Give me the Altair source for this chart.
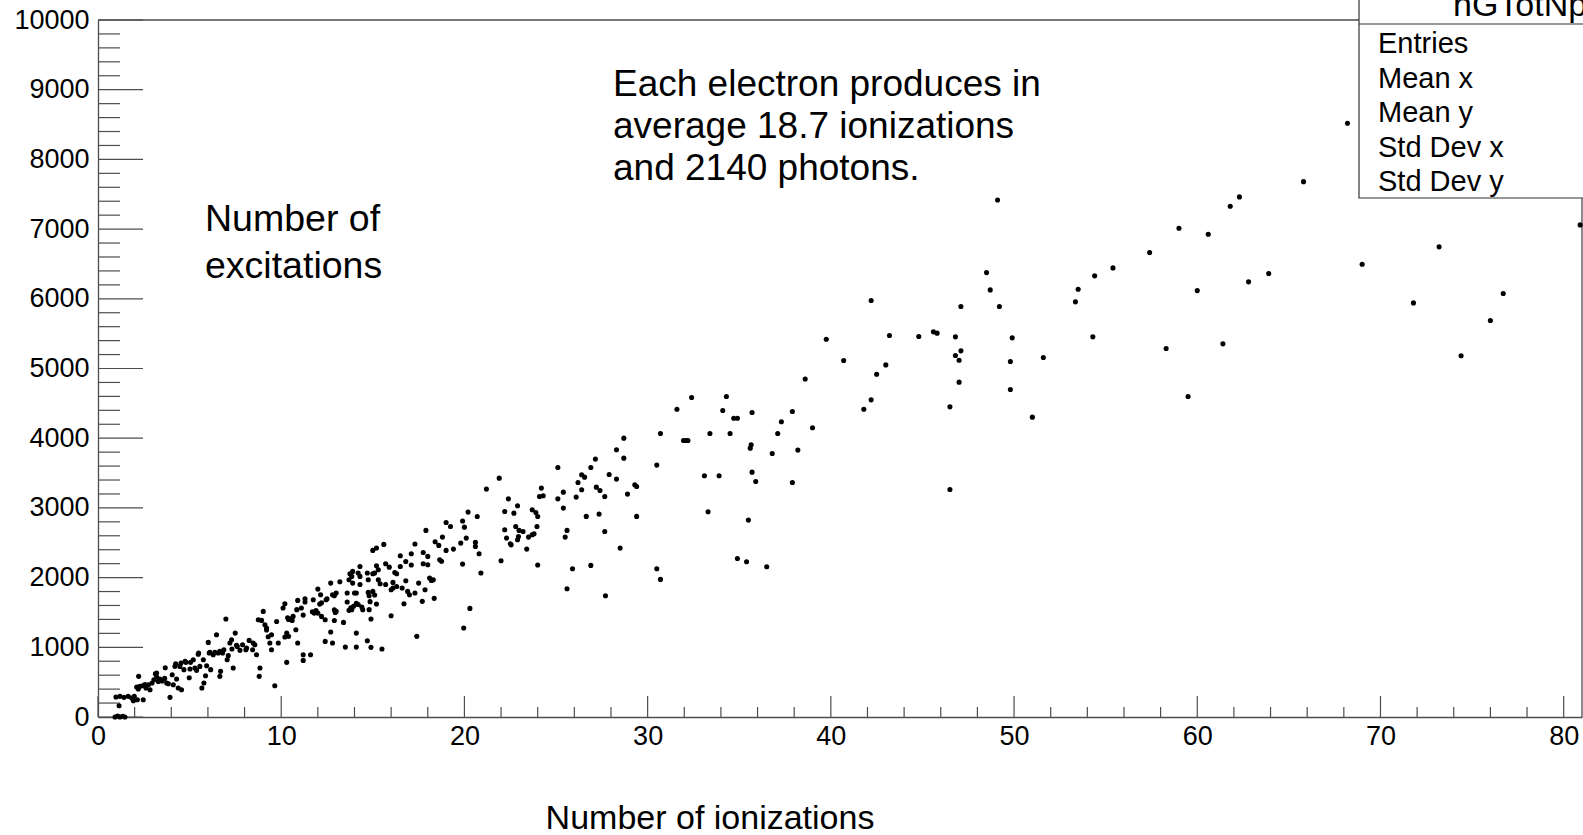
import altair as alt
import pandas as pd

# Number of ionizations / excitations per primary electron
ionizations = [
    0.93, 1.07, 1.2, 1.35, 1.47, 1.15,
    0.98, 1.2, 1.42, 1.65, 1.84, 1.98, 2.15, 1.93, 2.2, 2.11, 2.29, 2.44, 2.22, 2.47,
    2.62, 2.75, 2.84, 2.95, 3.05, 3.13, 3.2, 3.29, 3.38, 3.5, 3.64, 3.67, 3.75, 3.93,
    4.05, 4.11, 4.24, 4.29, 4.38, 4.47, 4.56, 4.53, 4.69, 4.8, 4.98, 5.05, 5.2, 5.29,
    5.38, 5.49, 5.56, 5.67, 5.78, 5.87, 5.93, 6.02, 6.07, 6.15, 6.29, 6.38, 6.47, 6.56,
    6.65, 6.69, 6.8, 6.87, 6.98, 7.05, 7.2, 7.31, 7.38, 7.49, 7.6, 7.75, 7.89, 8.07,
    8.25, 8.44, 8.56, 8.65, 8.75, 8.8, 8.84, 8.93, 9.02, 9.11, 9.2, 9.29, 9.38, 9.47,
    9.65, 9.75, 9.84,
    2.56, 3.2, 3.84, 4.2, 4.75, 5.02, 5.47, 5.75, 6.11, 6.65, 7.11, 7.29, 7.56, 8.11,
    8.47, 9.2, 9.47,
    25.1, 21.9, 21.2, 22.4, 22.9, 24.2, 24.1, 24.3, 25.1, 25.4, 26.1, 26.2, 25.4, 25.6,
    25.5, 25.9, 25.6, 22.2, 22.7, 23.7, 23.9, 24.0, 22.2, 22.3, 22.8, 22.98, 23.2, 22.9,
    22.95, 22.5, 22.55, 23.8, 23.7, 23.96, 23.5, 23.4, 22.0, 24.0, 20.7, 20.2, 19.9, 20.0,
    19.24, 19.0, 19.8, 20.1, 20.6, 20.6, 20.8, 19.9, 20.9, 20.3, 19.96, 17.9, 18.4, 18.6,
    18.8, 19.0, 19.4, 18.65, 18.75, 17.75, 18.0, 17.75, 18.0, 17.3, 16.5, 17.1, 17.1, 16.8,
    16.5, 16.2, 16.3, 15.6, 15.0, 15.2, 15.7, 15.9, 15.2, 15.3, 15.1, 15.0, 15.3, 15.4,
    15.0, 15.7, 16.1, 16.0, 16.1, 16.3, 16.6, 16.8, 16.9, 17.0, 17.3, 17.5, 17.85, 18.1,
    18.3, 18.2, 18.35, 16.7, 17.7, 16.0, 15.5, 17.4, 14.3, 14.2, 14.3, 13.9, 13.85, 13.75,
    14.3, 14.7, 14.75, 13.7, 13.9, 13.6, 13.2, 14.0, 14.1, 14.75, 14.8, 14.85, 15.1, 15.2,
    14.8, 14.4, 14.45, 13.8, 13.95, 13.85, 13.7, 14.2, 14.1, 13.6, 13.0, 12.8, 12.9, 12.7,
    12.0, 11.75, 11.3, 11.3, 10.9, 10.2, 10.1, 10.85, 11.1, 10.65, 10.5, 10.6, 10.35, 10.4,
    10.3, 10.2, 10.4, 10.8, 10.9, 10.3, 11.2, 11.2, 11.6, 11.2, 11.7, 11.8, 11.9, 12.0,
    12.2, 12.4, 12.4, 12.8, 12.7, 12.9, 13.0, 12.95, 13.4, 12.9, 13.5, 14.1, 14.1, 14.7,
    14.9, 14.9, 12.1, 12.2, 12.15, 12.45, 12.5,
    40.7, 38.6, 32.4, 34.3, 31.6, 34.1, 34.7, 34.9, 35.7, 37.9, 37.3, 39.0, 30.7, 31.96,
    32.1, 32.2, 33.4, 34.5, 37.1, 35.65, 35.6, 36.8, 38.2, 28.7, 28.3, 28.7, 27.15, 26.9,
    26.4, 26.56, 27.9, 28.3, 27.2, 27.4, 27.66, 26.4, 29.3, 29.4, 28.9, 30.5, 33.1, 33.9,
    35.7, 35.9, 37.9, 26.65, 27.35, 29.4, 33.3, 35.5, 27.66, 28.5, 26.9, 27.7, 30.5, 30.7,
    34.9, 35.4, 36.5,
    49.1, 59.0, 57.4, 55.4, 54.4, 53.5, 53.35, 60.0, 48.5, 48.7, 47.1, 49.2, 42.2, 39.75,
    43.2, 44.8, 45.6, 45.8, 46.8, 47.1, 46.8, 47.0, 49.9, 49.8, 49.8, 51.6, 54.3, 58.3,
    59.5, 43.0, 42.5, 42.2, 41.8, 47.0, 46.5, 51.0, 46.5,
    68.2, 65.8, 62.3, 61.8, 60.6, 63.9, 62.8, 69.0, 73.2, 80.9, 76.7, 71.8, 76.0, 74.4,
    61.4,
]

excitations = [
    0, 15, 0, 10, 0, 162,
    287, 296, 282, 296, 272, 296, 248, 234, 401, 430, 440, 449, 583, 248,
    416, 463, 392, 487, 535, 621, 573, 511, 545, 516, 554, 707, 487, 282,
    607, 463, 765, 545, 416, 726, 392, 774, 679, 784, 564, 784, 822, 702,
    669, 918, 726, 416, 487, 592, 736, 1070, 918, 679, 894, 927, 1180, 918,
    583, 655, 918, 965, 1405, 822, 1061, 975, 702, 1204, 1013, 956, 1037, 965,
    1099, 965, 1037, 894, 1395, 583, 702, 1386, 1515, 1324, 1276, 1151, 1061, 965,
    449, 1371, 1061,
    464, 631, 478, 727, 800, 688, 900, 822, 930, 942, 880, 1109, 1030, 990,
    1061, 1250, 1180,
    3580, 3427, 3270, 3130, 3030, 3284, 3164, 3174, 3130, 3226, 3155, 3365, 2997, 2677,
    2581, 2127, 1840, 2949, 2925, 2973, 2935, 2877, 2686, 2567, 2734, 2677, 2662, 2543,
    2590, 2485, 2470, 2629, 2615, 2734, 2581, 2409, 2242, 2180, 2877, 2940, 2811, 2724,
    2734, 2791, 2495, 2567, 2505, 2447, 2342, 2194, 2065, 1558, 1276, 2677, 2514, 2462,
    2581, 2390, 2409, 2256, 2235, 2361, 2304, 2198, 2184, 2481, 2313, 2342, 2180, 2232,
    2160, 2074, 2055, 2476, 2390, 2424, 2198, 2150, 2170, 2113, 2065, 2055, 1969, 1912,
    1802, 1902, 1850, 1826, 1931, 1873, 1850, 1955, 1802, 1754, 1778, 1921, 1826, 1993,
    1969, 1960, 1702, 1625, 1659, 1453, 975, 1157, 2160, 2065, 2017, 2089, 2017, 2055,
    1902, 2065, 1969, 1969, 1921, 1778, 1940, 1778, 1778, 1788, 1740, 1655, 1750, 1620,
    1540, 1578, 1540, 1568, 1590, 1540, 1530, 1615, 1630, 1649, 1778, 1754, 1740, 1921,
    1835, 1683, 1697, 1649, 1673, 1625, 1563, 1540, 1563, 1443, 1405, 1385, 1424, 1400,
    1204, 1147, 1157, 1252, 1061, 784, 894, 812, 894, 1462, 1510, 1491, 1529, 1491,
    1443, 1395, 1085, 1061, 1219, 1539, 1515, 1500, 1357, 1385, 1003, 1003, 1204, 1094,
    999, 1405, 1620, 1640, 1754, 1683, 1697,
    5115, 4850, 4584, 4598, 4416, 4397, 4287, 4287, 4369, 4383, 4235, 4149, 4068, 3967,
    3967, 3967, 4068, 4068, 4068, 3905, 3857, 3781, 3829, 4001, 3834, 3714, 3700, 3580,
    3475, 3441, 3480, 3413, 3298, 3250, 3164, 3260, 3332, 3308, 3198, 3614, 3461, 3461,
    3513, 3379, 3365, 2878, 2911, 2878, 2944, 2825, 2662, 2423, 2175, 1740, 2127, 1974,
    2275, 2227, 2156,
    7418, 7012, 6663, 6443, 6329, 6138, 5956, 6118, 6376, 6128, 5889, 5889, 5975, 5420,
    5473, 5459, 5526, 5507, 5454, 5253, 5186, 5119, 5440, 5100, 4698, 5158, 5454, 5287,
    4598, 5052, 4918, 4550, 4416, 4804, 4450, 4302, 3265,
    8518, 7681, 7462, 7328, 6926, 6362, 6243, 6496, 6745, 7060, 6075, 5941, 5688, 5182,
    5354,
]

# Axis ticks and labels
x_labels = list(range(0, 81, 10))
y_labels = list(range(0, 10001, 1000))
x_minor = [v for v in range(2, 81, 2) if v % 10]
y_minor = [v for v in range(200, 10000, 200) if v % 1000]

stat_names = ["Entries", "Mean x", "Mean y", "Std Dev x", "Std Dev y"]
note_text = "Each electron produces in\naverage 18.7 ionizations\nand 2140 photons."
y_note = "Number of\nexcitations"
x_title = "Number of ionizations"
hist_name = "hGTotNph"

W, H = 1484, 697
FONT = "Liberation Sans"
AX = "#4d4d4d"

df = pd.DataFrame({"ion": ionizations, "exc": excitations})
xs = alt.Scale(domain=[0, 81], nice=False, zero=False)
ys = alt.Scale(domain=[0, 10000], nice=False, zero=False)

# one axis definition per channel, shared by every layer so they merge cleanly
x_axis = alt.Axis(
    values=x_labels, format="d", ticks=False, grid=False, title=None,
    labelFont=FONT, labelFontSize=27, labelColor="black", labelPadding=6,
    labelFlush=False, labelOverlap=False, domainColor=AX, domainWidth=1.3)
y_axis = alt.Axis(
    values=y_labels, format="d", ticks=False, grid=False, title=None,
    labelFont=FONT, labelFontSize=27, labelColor="black", labelPadding=9,
    labelFlush=False, labelOverlap=False, domainColor=AX, domainWidth=1.3)

X = lambda: alt.X("ion:Q", scale=xs, axis=x_axis)
Y = lambda: alt.Y("exc:Q", scale=ys, axis=y_axis)

points = alt.Chart(df).mark_point(
    filled=True, shape="circle", size=26, color="black", opacity=1
).encode(x=X(), y=Y())

def ticks_y(vals, length):
    return alt.Chart(pd.DataFrame({"exc": vals})).mark_rule(
        color=AX, strokeWidth=1.2
    ).encode(y=Y(), x=alt.value(0), x2=alt.value(length))

def ticks_x(vals, length):
    return alt.Chart(pd.DataFrame({"ion": vals})).mark_rule(
        color=AX, strokeWidth=1.2
    ).encode(x=X(), y=alt.value(H), y2=alt.value(H - length))

one = pd.DataFrame({"k": [0]})

frame_top = alt.Chart(one).mark_rule(color=AX, strokeWidth=1.3).encode(
    x=alt.value(0), x2=alt.value(W), y=alt.value(0))
frame_right = alt.Chart(one).mark_rule(color=AX, strokeWidth=1.3).encode(
    x=alt.value(W), y=alt.value(0), y2=alt.value(H))

# statistics box in the upper right corner
stats_box = alt.Chart(one).mark_rect(
    fill="white", stroke="#333333", strokeWidth=1.2
).encode(x=alt.value(1261), x2=alt.value(1600), y=alt.value(-40), y2=alt.value(178))
stats_sep = alt.Chart(one).mark_rule(color="#333333", strokeWidth=1.2).encode(
    x=alt.value(1261), x2=alt.value(1600), y=alt.value(4))
stats_title = alt.Chart(pd.DataFrame({"t": [hist_name]})).mark_text(
    font=FONT, fontSize=34, align="left", baseline="alphabetic", color="black"
).encode(text="t:N", x=alt.value(1355), y=alt.value(-4))
stats_rows = alt.Chart(pd.DataFrame({"t": ["\n".join(stat_names)]})).mark_text(
    font=FONT, fontSize=29, align="left", baseline="alphabetic", color="black",
    lineBreak="\n", lineHeight=34.5
).encode(text="t:N", x=alt.value(1280), y=alt.value(33))

note = alt.Chart(pd.DataFrame({"t": [note_text]})).mark_text(
    font=FONT, fontSize=37, align="left", baseline="alphabetic", color="black",
    lineBreak="\n", lineHeight=42
).encode(text="t:N", x=alt.value(515), y=alt.value(76))
ynote = alt.Chart(pd.DataFrame({"t": [y_note]})).mark_text(
    font=FONT, fontSize=37.5, align="left", baseline="alphabetic", color="black",
    lineBreak="\n", lineHeight=47
).encode(text="t:N", x=alt.value(107), y=alt.value(211))
xtitle = alt.Chart(pd.DataFrame({"t": [x_title]})).mark_text(
    font=FONT, fontSize=34, align="center", baseline="alphabetic", color="black"
).encode(text="t:N", x=alt.value(612), y=alt.value(809))

chart = alt.layer(
    frame_top, frame_right,
    ticks_y(y_labels, 45), ticks_y(y_minor, 22),
    ticks_x(x_labels, 21), ticks_x(x_minor, 10),
    points,
    stats_box, stats_sep, stats_title, stats_rows,
    note, ynote, xtitle,
).properties(
    width=W, height=H,
    padding={"left": 98, "top": 20, "right": 1, "bottom": 118},
    autosize=alt.AutoSizeParams(type="none"),
    background="white",
).configure_view(strokeWidth=0)

chart.save("out.html", embed_options={"renderer": "svg", "actions": False})
